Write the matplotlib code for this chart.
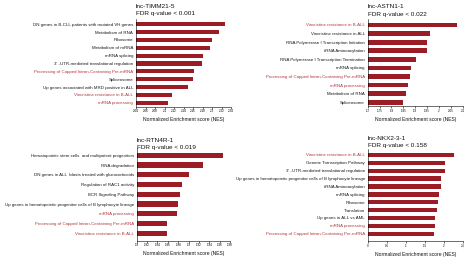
import matplotlib
matplotlib.use("Agg")
import matplotlib.pyplot as plt
import numpy as np

plt.rcParams['font.family'] = ['Liberation Sans', 'DejaVu Sans']

BAR_COLOR = '#9c1c26'
RED_TXT = '#b03a3f'
BLK_TXT = '#1a1a1a'

# panel 1
timm_labels = ["DN genes in B-CLL patients with mutated VH genes", "Metabolism of RNA", "Ribosome",
               "Metabolism of mRNA", "mRNA splicing", "3' -UTR-mediated translational regulation",
               "Processing of Capped Intron-Containing Pre-mRNA", "Spliceosome",
               "Up genes associated with MRD positive in ALL", "Vincristine resistance in B-ALL",
               "mRNA processing"]
timm_nes = [2.227, 2.215, 2.199, 2.196, 2.181, 2.178, 2.163, 2.161, 2.150, 2.115, 2.108]
timm_red = [6, 9, 10]
timm_ticks = [2.04, 2.06, 2.08, 2.1, 2.12, 2.14, 2.16, 2.18, 2.2, 2.22, 2.24]

# panel 2
astn_labels = ["Vincristine resistance in B-ALL", "Vincristine resistance in ALL",
               "RNA Polymerase I Transcription Initiation", "tRNA Aminoacylation",
               "RNA Polymerase I Transcription Termination", "mRNA splicing",
               "Processing of Capped Intron-Containing Pre-mRNA", "mRNA processing",
               "Metabolism of RNA", "Spliceosome"]
astn_nes = [2.075, 1.961, 1.950, 1.949, 1.903, 1.882, 1.878, 1.870, 1.860, 1.850]
astn_red = [0, 6, 7]
astn_ticks = [1.7, 1.75, 1.8, 1.85, 1.9, 1.95, 2, 2.05, 2.1]

# panel 3
rtn_labels = ["Hematopoietic stem cells  and multipotent progenitors", "RNA degradation",
              "DN genes in ALL  blasts treated with glucocorticoids", "Regulation of RAC1 activity",
              "BCR Signaling Pathway", "Up genes in hematopoietic progenitor cells of B lymphocyte lineage",
              "mRNA processing", "Processing of Capped Intron-Containing Pre-mRNA",
              "Vincristine resistance in B-ALL"]
rtn_nes = [1.966, 1.928, 1.901, 1.887, 1.884, 1.880, 1.877, 1.858, 1.859]
rtn_red = [6, 7, 8]
rtn_ticks = [1.8, 1.82, 1.84, 1.86, 1.88, 1.9, 1.92, 1.94, 1.96, 1.98]

# panel 4
nkx_labels = ["Vincristine resistance in B-ALL", "Generic Transcription Pathway",
              "3' -UTR-mediated translational regulation",
              "Up genes in hematopoietic progenitor cells of B lymphocyte lineage",
              "tRNA Aminoacylation", "mRNA splicing", "Ribosome", "Translation",
              "Up genes in ALL vs AML", "mRNA processing",
              "Processing of Capped Intron-Containing Pre-mRNA"]
nkx_nes = [2.26, 2.03, 2.03, 1.93, 1.93, 1.88, 1.86, 1.82, 1.76, 1.76, 1.74]
nkx_red = [0, 9, 10]
nkx_ticks = [0, 0.5, 1, 1.5, 2, 2.5]

W, H = 469, 257
fig = plt.figure(figsize=(W / 100, H / 100), dpi=100)


def panel(x0, x1, ytop, ybot, yaxis, labels, vals, reds, ticks, title, fdr, ty):
    n = len(labels)
    s = (ybot - ytop) / (n - 1)
    lo = n - 1 + (yaxis - ybot) / s
    hi = -0.7
    top_px = ytop + hi * s
    ax = fig.add_axes([x0 / W, 1 - yaxis / H, (x1 - x0) / W, (yaxis - top_px) / H])
    xmin = ticks[0]
    y = np.arange(n)
    ax.barh(y, np.array(vals) - xmin, left=xmin, height=0.55, color=BAR_COLOR)
    ax.set_ylim(lo, hi)
    ax.set_xlim(ticks[0], ticks[-1])
    ax.set_xticks(ticks)
    ax.set_xticklabels([f"{t:g}" for t in ticks], fontsize=2.2)
    ax.set_yticks(y)
    ax.set_yticklabels(labels, fontsize=3.2)
    for i, t in enumerate(ax.get_yticklabels()):
        t.set_color(RED_TXT if i in reds else BLK_TXT)
    ax.tick_params(axis='x', length=1.2, width=0.4, pad=0.8)
    ax.tick_params(axis='y', length=0, pad=2)
    for sp in ['top', 'right']:
        ax.spines[sp].set_visible(False)
    ax.spines['left'].set_linewidth(0.4)
    ax.spines['bottom'].set_linewidth(0.4)
    fig.text(x0 / W, 1 - ty[0] / H, title, fontsize=4.6, va='center', ha='left', color='#111111')
    fig.text(x0 / W, 1 - ty[1] / H, fdr, fontsize=4.6, va='center', ha='left', color='#111111')
    fig.text((x0 + x1) / 2 / W, 1 - (yaxis + 13) / H, "Normalized Enrichment score (NES)",
             fontsize=3.6, va='center', ha='center', color='#111111')
    return ax


panel(136, 231, 24.3, 102.7, 106.5, timm_labels, timm_nes, timm_red, timm_ticks,
      "lnc-TIMM21-5", "FDR q-value < 0.001", (6, 14))
panel(367.7, 462.7, 25, 102.3, 106, astn_labels, astn_nes, astn_red, astn_ticks,
      "lnc-ASTN1-1", "FDR q-value < 0.022", (6, 14.3))
panel(136.7, 230, 155.3, 233.3, 240.7, rtn_labels, rtn_nes, rtn_red, rtn_ticks,
      "lnc-RTN4R-1", "FDR q-value < 0.019", (140.7, 147.5))
panel(367.7, 462.7, 155, 233.7, 241.3, nkx_labels, nkx_nes, nkx_red, nkx_ticks,
      "lnc-NKX2-3-1", "FDR q-value < 0.158", (138, 146))

fig.savefig("out.png", dpi=100)
